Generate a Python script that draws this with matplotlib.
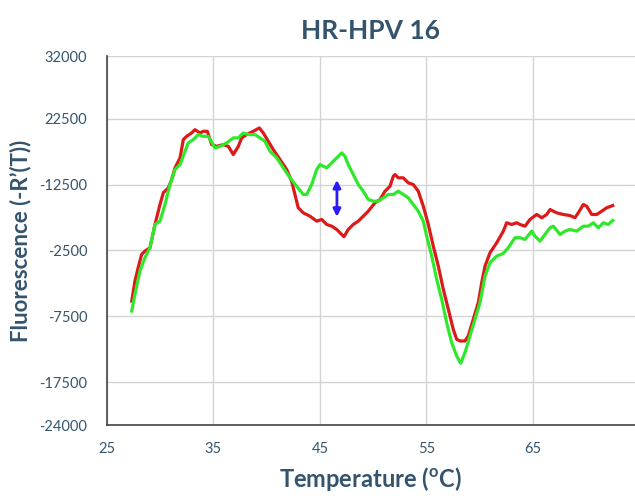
import matplotlib
matplotlib.use("Agg")
import matplotlib.pyplot as plt

# melt curve, red trace
temp_red = [27.35, 27.65, 27.96, 28.28, 28.59, 29.06, 29.53, 30.0, 30.31, 30.78,
            31.10, 31.41, 31.88, 32.19, 32.50, 32.97, 33.28, 33.75, 34.06, 34.44,
            34.85, 35.32, 35.94, 36.41, 36.88, 37.35, 37.66, 38.13, 38.75, 39.32,
            39.69, 40.16, 40.63, 41.26, 41.89, 42.35, 42.66, 42.97, 43.44, 44.07,
            44.70, 45.17, 45.64, 46.11, 46.58, 46.89, 47.26, 47.66, 48.13, 48.60,
            49.07, 49.54, 50.17, 50.64, 51.11, 51.58, 51.89, 52.05, 52.35, 52.82,
            53.29, 53.76, 54.23, 54.70, 55.17, 55.64, 56.11, 56.58, 57.05, 57.51,
            57.83, 58.14, 58.61, 58.92, 59.39, 59.86, 60.18, 60.49, 60.96, 61.59,
            62.21, 62.52, 62.99, 63.46, 63.77, 64.24, 64.71, 65.34, 65.81, 66.28,
            66.59, 67.21, 67.83, 68.46, 68.93, 69.24, 69.71, 70.03, 70.50, 70.97,
            71.44, 71.90, 72.47]
fluo_red = [-5180, -2150, -70, 1900, 2400, 2900, 6440, 9470, 11240, 12000,
            13260, 15030, 16550, 19320, 19820, 20330, 20830, 20330, 20580, 20580,
            18560, 18300, 18560, 18300, 17050, 18300, 19580, 20080, 20580, 21090,
            20330, 19060, 17800, 16290, 14770, 13000, 10990, 8970, 8210, 7700,
            6940, 7200, 6440, 6180, 5680, 5180, 4580, 5680, 6440, 6940,
            7700, 8460, 9730, 10230, 11490, 12240, 13760, 14020, 13520, 13520,
            12760, 12500, 11490, 9210, 6440, 3150, 120, -3410, -6440, -9470,
            -10980, -11240, -11240, -10480, -7950, -5420, -2390, 120, 2150, 3670,
            5430, 6700, 6440, 6700, 6440, 6180, 7200, 7960, 7460, 7960,
            8710, 8210, 7960, 7800, 7460, 8210, 9470, 9210, 7960, 7960,
            8460, 8970, 9320]

# melt curve, green trace
temp_green = [27.35, 27.65, 28.12, 28.59, 29.06, 29.53, 30.0, 30.47, 30.94, 31.41,
              31.88, 32.35, 32.65, 33.12, 33.59, 34.06, 34.53, 35.16, 35.63, 36.26,
              36.88, 37.35, 37.81, 38.28, 38.91, 39.38, 39.85, 40.32, 40.95, 41.57,
              42.20, 42.82, 43.44, 43.76, 44.23, 44.70, 45.01, 45.64, 46.11, 46.58,
              47.05, 47.35, 47.66, 48.13, 48.60, 49.07, 49.54, 50.01, 50.48, 50.95,
              51.42, 51.89, 52.35, 52.82, 53.29, 53.76, 54.23, 54.70, 55.02, 55.49,
              55.96, 56.43, 56.89, 57.36, 57.83, 58.21, 58.61, 59.08, 59.55, 60.02,
              60.49, 60.96, 61.59, 62.21, 62.67, 63.30, 63.77, 64.24, 64.87, 65.18,
              65.65, 66.12, 66.59, 66.90, 67.53, 68.0, 68.46, 69.09, 69.71, 70.18,
              70.65, 71.12, 71.59, 72.05, 72.47]
fluo_green = [-6690, -4160, -630, 1400, 2900, 6440, 6940, 9470, 12500, 14770,
              15530, 17550, 18820, 19320, 20080, 19820, 19820, 18060, 18300, 18820,
              19580, 19580, 20330, 20080, 20080, 19580, 19060, 17550, 16550, 15030,
              13520, 12240, 10990, 10990, 12500, 14770, 15530, 15030, 15790, 16550,
              17300, 16790, 15530, 14020, 12500, 11490, 10230, 9970, 9970, 10490,
              10990, 10990, 11490, 10990, 10490, 9470, 8460, 6940, 4670, 1640,
              -1890, -4920, -8450, -11480, -13510, -14620, -13000, -10480, -7950, -5420,
              -1390, 640, 1640, 2050, 2900, 4430, 4430, 4170, 5430, 4670,
              3910, 4930, 5940, 6180, 4930, 5430, 5680, 5430, 6180, 6180,
              6700, 5940, 6700, 6440, 7050]

ytick_vals = [32000, 22500, 12500, 2500, -7500, -17500, -24000]
ytick_labels = ["32000", "22500", "-12500", "-2500", "-7500", "-17500", "-24000"]
xtick_vals = [25, 35, 45, 55, 65]

arrow_x = 46.6
arrow_lo, arrow_hi = 7600, 13200

txt = "#34546d"
plt.rcParams["font.family"] = ["Lato", "DejaVu Sans"]

fig = plt.figure(figsize=(6.35, 4.96), dpi=100)
ax = fig.add_axes([0.168, 0.143, 0.832, 0.744])

ax.plot(temp_red, fluo_red, color="#dc1a1a", lw=2.3, zorder=3)
ax.plot(temp_green, fluo_green, color="#2ee82a", lw=2.3, zorder=4)

ax.annotate("", xy=(arrow_x, arrow_lo), xytext=(arrow_x, arrow_hi),
            arrowprops=dict(arrowstyle="<|-|>", color="#2b1cf5", lw=2,
                            mutation_scale=11, shrinkA=0, shrinkB=0), zorder=5)

ax.set_xlim(25, 74.56)
ax.set_ylim(-24000, 32000)
ax.set_xticks(xtick_vals)
ax.set_xticklabels([str(v) for v in xtick_vals])
ax.set_yticks(ytick_vals)
ax.set_yticklabels(ytick_labels)
ax.tick_params(length=0, labelsize=10.5, labelcolor=txt)
ax.tick_params(axis="x", pad=12)
ax.tick_params(axis="y", pad=14)

ax.grid(True, color="#d4d4d4", lw=1)
ax.set_axisbelow(True)
for s in ["top", "right"]:
    ax.spines[s].set_visible(False)
for s in ["left", "bottom"]:
    ax.spines[s].set_color("#444444")
    ax.spines[s].set_linewidth(1.2)

ax.set_title("HR-HPV 16", fontsize=19, fontweight="bold", color=txt, pad=12)
ax.set_xlabel(r"Temperature ($\mathregular{^o}$C)", fontsize=17, fontweight="bold",
              color=txt, labelpad=7)
ax.set_ylabel("Fluorescence (-R’(T))", fontsize=16, fontweight="bold",
              color=txt, labelpad=6)

fig.savefig("out.png", dpi=100)
